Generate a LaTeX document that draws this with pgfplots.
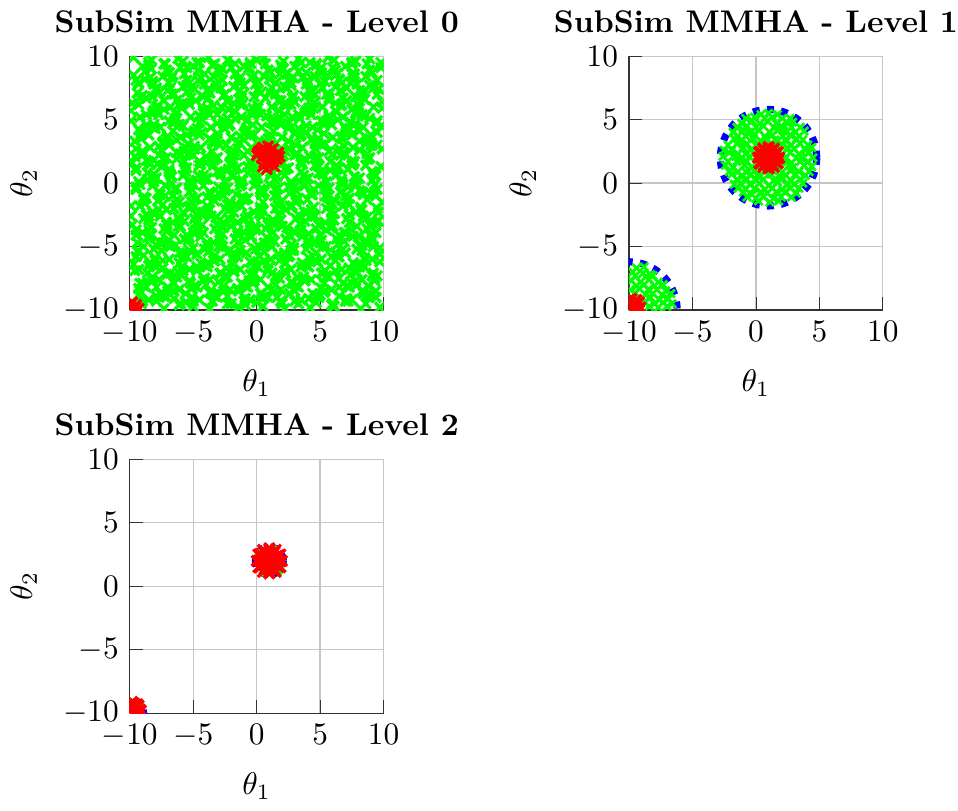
\documentclass[border=0pt]{standalone}
\usepackage{pgfplots}
\pgfplotsset{compat=1.18}
\definecolor{pgreen}{RGB}{0,255,0}
\definecolor{pred}{RGB}{255,0,0}
\definecolor{pblue}{RGB}{0,0,255}
\pgfplotsset{
  sub/.style={width=81.1pt,height=81.1pt,scale only axis,
    xmin=-10,xmax=10,ymin=-10,ymax=10,
    xtick={-10,-5,0,5,10},ytick={-10,-5,0,5,10},
    grid=major, major grid style={gray!45,line width=0.4pt},
    axis x line*=bottom, axis y line*=left, axis line style={-,black!80},
    tick align=inside, tick style={black!80},
    xlabel={$\theta_1$}, ylabel={$\theta_2$},
    xlabel style={yshift=-1.5pt}, ylabel style={yshift=1.5pt},
    title style={font=\bfseries, yshift=-2pt, inner xsep=0pt},
    clip marker paths=true},
  gpts/.style={only marks, mark=x, color=pgreen, mark size=2.2pt, line width=1pt},
  gpts1/.style={only marks, mark=x, color=pgreen, mark size=1.8pt, line width=0.85pt},
  rpts/.style={only marks, mark=x, color=pred, mark size=2.3pt, line width=1pt},
  bcirc/.style={pblue, line width=2.3pt, dash pattern=on 2.2pt off 2.3pt, smooth, no marks}
}
\begin{document}
\begin{tikzpicture}
%%%%%%%%%%%%%%%%%% Level 0
\begin{axis}[sub, at={(0pt,0pt)}, anchor=south west, title={SubSim MMHA - Level 0}]
\addplot[gpts] coordinates {
(-9.4,-9.8)(-9.1,-9.5)(-7.9,-9.3)(-7.3,-9.9)(-6.1,-9.6)(-5.6,-9.4)(-5.0,-9.7)(-3.7,-9.9)(-3.5,-9.3)(-2.3,-9.5)(-1.4,-9.8)(-0.9,-9.6)(0.0,-9.4)(0.5,-9.7)(1.9,-9.3)(2.2,-9.9)(3.3,-9.5)(4.2,-9.8)(4.7,-9.4)(5.9,-9.6)(6.1,-9.7)(7.2,-9.3)(8.2,-9.9)(8.6,-9.5)(9.7,-9.8)
(-9.3,-8.8)(-9.1,-8.6)(-7.9,-8.9)(-7.0,-8.5)(-6.5,-9.1)(-5.6,-8.7)(-5.1,-9.0)(-3.7,-8.6)(-3.4,-8.8)(-2.3,-8.9)(-1.4,-8.5)(-0.9,-9.1)(0.3,-8.7)(0.5,-9.0)(1.6,-9.0)(2.6,-8.7)(3.0,-8.5)(4.1,-9.1)(5.0,-8.8)(5.3,-8.6)(6.5,-8.9)(7.1,-9.1)(8.3,-8.5)(8.8,-8.7)(9.4,-9.0)
(-9.3,-8.3)(-9.0,-7.9)(-7.9,-8.2)(-7.0,-8.2)(-6.5,-7.9)(-5.3,-7.7)(-5.1,-8.3)(-4.0,-8.0)(-3.0,-7.8)(-2.6,-8.1)(-1.5,-8.3)(-0.6,-7.7)(-0.3,-7.9)(0.9,-8.2)(1.5,-8.0)(2.7,-7.8)(3.2,-8.1)(3.8,-7.7)(5.1,-8.3)(5.3,-7.9)(6.5,-8.2)(7.4,-7.8)(7.9,-8.0)(8.8,-8.1)(9.3,-7.7)
(-9.6,-6.9)(-8.6,-7.1)(-8.2,-7.4)(-7.1,-7.2)(-6.2,-7.0)(-5.9,-7.3)(-4.7,-6.9)(-4.1,-7.5)(-2.9,-7.1)(-2.4,-7.4)(-1.8,-7.0)(-0.5,-7.2)(-0.3,-7.3)(0.9,-6.9)(1.8,-7.5)(2.3,-7.1)(3.2,-7.4)(3.7,-7.4)(5.1,-7.1)(5.4,-6.9)(6.5,-7.5)(7.4,-7.2)(7.9,-7.0)(9.1,-7.3)(9.3,-7.5)
(-9.7,-6.4)(-8.5,-6.5)(-8.0,-6.1)(-7.4,-6.7)(-6.1,-6.3)(-5.9,-6.6)(-4.7,-6.6)(-3.8,-6.3)(-3.3,-6.1)(-2.4,-6.7)(-1.9,-6.4)(-0.5,-6.2)(-0.2,-6.5)(0.9,-6.7)(1.8,-6.1)(2.3,-6.3)(3.5,-6.6)(3.7,-6.4)(4.8,-6.2)(5.8,-6.5)(6.2,-6.1)(7.3,-6.7)(8.2,-6.3)(8.5,-6.6)(9.7,-6.2)
(-9.4,-5.4)(-8.9,-5.7)(-8.0,-5.9)(-7.5,-5.3)(-6.1,-5.5)(-5.8,-5.8)(-4.7,-5.6)(-3.8,-5.4)(-3.3,-5.7)(-2.1,-5.3)(-1.9,-5.9)(-0.8,-5.5)(0.2,-5.8)(0.6,-5.4)(1.7,-5.6)(2.6,-5.7)(2.9,-5.3)(4.1,-5.9)(4.7,-5.5)(5.9,-5.8)(6.4,-5.8)(7.0,-5.5)(8.3,-5.3)(8.5,-5.9)(9.7,-5.6)
(-9.4,-4.7)(-8.9,-5.0)(-7.7,-4.6)(-7.5,-4.8)(-6.4,-4.9)(-5.4,-4.5)(-5.0,-5.1)(-3.9,-4.7)(-3.0,-5.0)(-2.7,-5.0)(-1.5,-4.7)(-0.9,-4.5)(0.3,-5.1)(0.8,-4.8)(1.4,-4.6)(2.7,-4.9)(2.9,-5.1)(4.1,-4.5)(5.0,-4.7)(5.5,-5.0)(6.4,-4.8)(6.9,-4.6)(8.3,-4.9)(8.6,-4.5)(9.7,-5.1)
(-9.5,-3.7)(-8.6,-4.3)(-8.3,-4.0)(-7.1,-3.8)(-6.5,-4.1)(-5.3,-4.3)(-4.8,-3.7)(-4.2,-3.9)(-2.9,-4.2)(-2.7,-4.0)(-1.5,-3.8)(-0.6,-4.1)(-0.1,-3.7)(0.8,-4.3)(1.3,-3.9)(2.7,-4.2)(3.0,-3.8)(4.1,-4.0)(5.0,-4.1)(5.5,-3.7)(6.7,-4.3)(6.9,-3.9)(8.0,-4.2)(9.0,-4.2)(9.4,-3.9)
(-9.8,-3.3)(-8.5,-2.9)(-8.3,-3.5)(-7.1,-3.1)(-6.2,-3.4)(-5.7,-3.0)(-4.8,-3.2)(-4.3,-3.3)(-2.9,-2.9)(-2.6,-3.5)(-1.5,-3.1)(-0.6,-3.4)(-0.1,-3.4)(1.1,-3.1)(1.3,-2.9)(2.4,-3.5)(3.4,-3.2)(3.8,-3.0)(4.9,-3.3)(5.8,-3.5)(6.1,-2.9)(7.3,-3.1)(7.9,-3.4)(9.1,-3.2)(9.6,-3.0)
(-9.9,-2.6)(-8.5,-2.6)(-8.2,-2.3)(-7.1,-2.1)(-6.2,-2.7)(-5.7,-2.4)(-4.5,-2.2)(-4.3,-2.5)(-3.2,-2.7)(-2.2,-2.1)(-1.8,-2.3)(-0.7,-2.6)(0.2,-2.4)(0.5,-2.2)(1.7,-2.5)(2.3,-2.1)(3.5,-2.7)(4.0,-2.3)(4.6,-2.6)(5.9,-2.2)(6.1,-2.4)(7.3,-2.5)(8.2,-2.1)(8.7,-2.7)(9.6,-2.3)
(-9.9,-1.8)(-8.8,-1.6)(-7.8,-1.4)(-7.4,-1.7)(-6.3,-1.3)(-5.4,-1.9)(-5.1,-1.5)(-3.9,-1.8)(-3.3,-1.4)(-2.1,-1.6)(-1.6,-1.7)(-1.0,-1.3)(0.3,-1.9)(0.5,-1.5)(1.7,-1.8)(2.6,-1.8)(3.1,-1.5)(4.0,-1.3)(4.5,-1.9)(5.9,-1.6)(6.2,-1.4)(7.3,-1.7)(8.2,-1.9)(8.7,-1.3)(9.9,-1.5)
(-9.5,-0.5)(-8.9,-1.1)(-7.7,-0.7)(-7.2,-1.0)(-6.6,-1.0)(-5.3,-0.7)(-5.1,-0.5)(-3.9,-1.1)(-3.0,-0.8)(-2.5,-0.6)(-1.6,-0.9)(-1.1,-1.1)(0.3,-0.5)(0.6,-0.7)(1.7,-1.0)(2.6,-0.8)(3.1,-0.6)(4.3,-0.9)(4.5,-0.5)(5.6,-1.1)(6.6,-0.7)(7.0,-1.0)(8.1,-0.6)(9.0,-0.8)(9.3,-0.9)
(-9.5,-0.3)(-8.6,0.3)(-8.1,0.1)(-7.2,-0.2)(-6.7,0.0)(-5.3,0.2)(-5.0,-0.1)(-3.9,0.3)(-3.0,-0.3)(-2.5,0.1)(-1.3,-0.2)(-1.1,0.2)(0.0,0.0)(1.0,-0.1)(1.4,0.3)(2.5,-0.3)(3.4,0.1)(3.7,-0.2)(4.9,-0.2)(5.5,0.1)(6.7,0.3)(7.2,-0.3)(7.8,0.0)(9.1,0.2)(9.3,-0.1)
(-9.5,1.0)(-8.6,0.8)(-8.1,0.7)(-6.9,1.1)(-6.7,0.5)(-5.6,0.9)(-4.6,0.6)(-4.2,0.6)(-3.1,0.9)(-2.2,1.1)(-1.9,0.5)(-0.7,0.8)(-0.1,1.0)(1.1,0.7)(1.6,0.5)(2.2,1.1)(3.5,0.9)(3.7,0.6)(4.9,0.8)(5.8,1.0)(6.3,0.7)(7.2,1.1)(7.7,0.5)(9.1,0.9)(9.4,0.6)
(-9.8,1.6)(-8.7,1.8)(-7.8,1.5)(-7.5,1.3)(-6.3,1.9)(-5.7,1.7)(-4.5,1.4)(-4.0,1.6)(-3.4,1.8)(-2.1,1.5)(-1.9,1.9)(-0.7,1.3)(0.2,1.7)(0.7,1.4)(1.6,1.8)(2.1,1.6)(3.5,1.5)(3.8,1.9)(4.9,1.3)(5.8,1.7)(6.3,1.4)(7.5,1.4)(7.7,1.7)(8.8,1.9)(9.8,1.3)
(-9.6,2.1)(-9.0,2.5)(-7.7,2.2)(-7.5,2.6)(-6.3,2.4)(-5.4,2.3)(-4.9,2.7)(-4.0,2.1)(-3.5,2.5)(-2.1,2.2)(-1.8,2.2)(-0.7,2.5)(0.2,2.7)(0.7,2.1)(1.9,2.4)(2.1,2.6)(3.2,2.3)(4.2,2.1)(4.6,2.7)(5.7,2.5)(6.6,2.2)(6.9,2.4)(8.1,2.6)(8.7,2.3)(9.9,2.7)
(-9.6,3.3)(-9.1,3.5)(-7.7,2.9)(-7.4,3.2)(-6.3,3.4)(-5.4,3.1)(-4.9,2.9)(-3.7,3.5)(-3.5,3.3)(-2.4,3.0)(-1.4,3.2)(-1.0,3.4)(0.1,3.1)(1.0,3.5)(1.3,2.9)(2.5,3.3)(3.1,3.0)(4.3,3.4)(4.8,3.2)(5.4,3.1)(6.7,3.5)(6.9,2.9)(8.1,3.3)(9.0,3.0)(9.5,3.0)
(-9.3,4.2)(-9.1,3.9)(-8.0,4.3)(-7.0,3.7)(-6.6,4.1)(-5.5,3.8)(-4.6,4.2)(-4.3,4.0)(-3.1,3.9)(-2.5,4.3)(-1.3,3.7)(-0.8,4.1)(-0.2,3.8)(1.1,3.8)(1.3,4.1)(2.5,4.3)(3.4,3.7)(3.9,4.0)(4.8,4.2)(5.3,3.9)(6.7,3.7)(7.0,4.3)(8.1,4.1)(9.0,3.8)(9.5,4.0)
(-9.9,4.9)(-8.7,4.6)(-8.1,4.6)(-6.9,4.9)(-6.4,5.1)(-5.8,4.5)(-4.5,4.8)(-4.3,5.0)(-3.1,4.7)(-2.2,4.5)(-1.7,5.1)(-0.8,4.9)(-0.3,4.6)(1.1,4.8)(1.4,5.0)(2.5,4.7)(3.4,5.1)(3.9,4.5)(5.1,4.9)(5.3,4.6)(6.4,5.0)(7.4,4.8)(7.8,4.7)(8.9,5.1)(9.8,4.5)
(-9.9,5.7)(-8.7,5.4)(-7.8,5.6)(-7.3,5.8)(-6.4,5.5)(-5.9,5.9)(-4.5,5.3)(-4.2,5.7)(-3.1,5.4)(-2.2,5.8)(-1.7,5.6)(-0.5,5.5)(-0.3,5.9)(0.8,5.3)(1.8,5.7)(2.2,5.4)(3.3,5.4)(4.2,5.7)(4.5,5.9)(5.7,5.3)(6.3,5.6)(7.5,5.8)(8.0,5.5)(8.6,5.3)(9.9,5.9)
(-9.8,6.3)(-8.7,6.7)(-7.8,6.1)(-7.3,6.5)(-6.1,6.2)(-5.9,6.2)(-4.8,6.5)(-3.8,6.7)(-3.4,6.1)(-2.3,6.4)(-1.4,6.6)(-1.1,6.3)(0.1,6.1)(0.7,6.7)(1.9,6.5)(2.4,6.2)(3.0,6.4)(4.3,6.6)(4.5,6.3)(5.7,6.7)(6.6,6.1)(7.1,6.5)(8.0,6.2)(8.5,6.6)(9.9,6.4)
(-9.4,7.1)(-9.0,6.9)(-7.9,7.5)(-7.0,7.3)(-6.7,7.0)(-5.5,7.2)(-4.9,7.4)(-3.7,7.1)(-3.2,7.5)(-2.6,6.9)(-1.3,7.3)(-1.1,7.0)(0.1,7.4)(1.0,7.2)(1.5,7.1)(2.4,7.5)(2.9,6.9)(4.3,7.3)(4.6,7.0)(5.7,7.0)(6.6,7.3)(7.1,7.5)(8.3,6.9)(8.5,7.2)(9.6,7.4)
(-9.3,7.8)(-8.8,8.2)(-8.2,8.0)(-6.9,7.9)(-6.7,8.3)(-5.5,7.7)(-4.6,8.1)(-4.1,7.8)(-3.2,7.8)(-2.7,8.1)(-1.3,8.3)(-1.0,7.7)(0.1,8.0)(1.0,8.2)(1.5,7.9)(2.7,7.7)(2.9,8.3)(4.0,8.1)(5.0,7.8)(5.4,8.0)(6.5,8.2)(7.4,7.9)(7.7,8.3)(8.9,7.7)(9.5,8.1)
(-9.7,8.5)(-8.8,8.8)(-8.3,9.0)(-6.9,8.7)(-6.6,8.5)(-5.5,9.1)(-4.6,8.9)(-4.1,8.6)(-2.9,8.8)(-2.7,9.0)(-1.6,8.7)(-0.6,9.1)(-0.2,8.5)(0.9,8.9)(1.8,8.6)(2.1,9.0)(3.3,8.8)(3.9,8.7)(5.1,9.1)(5.6,8.5)(6.2,8.9)(7.5,8.6)(7.7,8.6)(8.9,8.9)(9.8,9.1)
(-9.7,9.9)(-8.5,9.3)(-8.3,9.7)(-7.2,9.4)(-6.2,9.8)(-5.8,9.6)(-4.7,9.5)(-3.8,9.9)(-3.5,9.3)(-2.3,9.7)(-1.7,9.4)(-0.5,9.4)(0.0,9.7)(0.6,9.9)(1.9,9.3)(2.1,9.6)(3.3,9.8)(4.2,9.5)(4.7,9.3)(5.6,9.9)(6.1,9.7)(7.5,9.4)(7.8,9.6)(8.9,9.8)(9.8,9.5)
(-9.0,-9.3)(-8.5,-9.2)(-7.3,-8.9)(-7.1,-9.0)(-6.0,-9.5)(-5.0,-9.3)(-4.5,-9.2)(-3.3,-8.9)(-3.1,-9.0)(-2.0,-9.5)(-1.0,-9.3)(-0.5,-9.2)(0.7,-8.9)(0.9,-9.0)(2.0,-9.5)(3.0,-9.3)(3.5,-9.2)(4.7,-8.9)(4.9,-9.0)(6.0,-9.5)(7.0,-9.3)(7.5,-9.2)(8.7,-8.9)(8.9,-9.0)
(-8.9,-8.1)(-8.7,-8.2)(-7.6,-8.7)(-6.6,-8.5)(-6.1,-8.4)(-4.9,-8.1)(-4.7,-8.2)(-3.6,-8.7)(-2.6,-8.5)(-2.1,-8.4)(-0.9,-8.1)(-0.7,-8.2)(0.4,-8.7)(1.4,-8.5)(1.9,-8.4)(3.1,-8.1)(3.3,-8.2)(4.4,-8.7)(5.4,-8.5)(5.9,-8.4)(7.1,-8.1)(7.3,-8.2)(8.4,-8.7)(9.4,-8.5)
(-9.2,-7.9)(-8.2,-7.7)(-7.7,-7.6)(-6.5,-7.3)(-6.3,-7.4)(-5.2,-7.9)(-4.2,-7.7)(-3.7,-7.6)(-2.5,-7.3)(-2.3,-7.4)(-1.2,-7.9)(-0.2,-7.7)(0.3,-7.6)(1.5,-7.3)(1.7,-7.4)(2.8,-7.9)(3.8,-7.7)(4.3,-7.6)(5.5,-7.3)(5.7,-7.4)(6.8,-7.9)(7.8,-7.7)(8.3,-7.6)(9.5,-7.3)
(-9.3,-6.8)(-8.1,-6.5)(-7.9,-6.6)(-6.8,-7.1)(-5.8,-6.9)(-5.3,-6.8)(-4.1,-6.5)(-3.9,-6.6)(-2.8,-7.1)(-1.8,-6.9)(-1.3,-6.8)(-0.1,-6.5)(0.1,-6.6)(1.2,-7.1)(2.2,-6.9)(2.7,-6.8)(3.9,-6.5)(4.1,-6.6)(5.2,-7.1)(6.2,-6.9)(6.7,-6.8)(7.9,-6.5)(8.1,-6.6)(9.2,-7.1)
(-9.5,-5.8)(-8.4,-6.3)(-7.4,-6.1)(-6.9,-6.0)(-5.7,-5.7)(-5.5,-5.8)(-4.4,-6.3)(-3.4,-6.1)(-2.9,-6.0)(-1.7,-5.7)(-1.5,-5.8)(-0.4,-6.3)(0.6,-6.1)(1.1,-6.0)(2.3,-5.7)(2.5,-5.8)(3.6,-6.3)(4.6,-6.1)(5.1,-6.0)(6.3,-5.7)(6.5,-5.8)(7.6,-6.3)(8.6,-6.1)(9.1,-6.0)
(-9.3,-5.3)(-8.1,-5.2)(-7.9,-4.9)(-6.8,-5.0)(-5.8,-5.5)(-5.3,-5.3)(-4.1,-5.2)(-3.9,-4.9)(-2.8,-5.0)(-1.8,-5.5)(-1.3,-5.3)(-0.1,-5.2)(0.1,-4.9)(1.2,-5.0)(2.2,-5.5)(2.7,-5.3)(3.9,-5.2)(4.1,-4.9)(5.2,-5.0)(6.2,-5.5)(6.7,-5.3)(7.9,-5.2)(8.1,-4.9)(9.2,-5.0)
(-9.5,-4.1)(-8.4,-4.2)(-7.4,-4.7)(-6.9,-4.5)(-5.7,-4.4)(-5.5,-4.1)(-4.4,-4.2)(-3.4,-4.7)(-2.9,-4.5)(-1.7,-4.4)(-1.5,-4.1)(-0.4,-4.2)(0.6,-4.7)(1.1,-4.5)(2.3,-4.4)(2.5,-4.1)(3.6,-4.2)(4.6,-4.7)(5.1,-4.5)(6.3,-4.4)(6.5,-4.1)(7.6,-4.2)(8.6,-4.7)(9.1,-4.5)
(-9.0,-3.9)(-8.5,-3.7)(-7.3,-3.6)(-7.1,-3.3)(-6.0,-3.4)(-5.0,-3.9)(-4.5,-3.7)(-3.3,-3.6)(-3.1,-3.3)(-2.0,-3.4)(-1.0,-3.9)(-0.5,-3.7)(0.7,-3.6)(0.9,-3.3)(2.0,-3.4)(3.0,-3.9)(3.5,-3.7)(4.7,-3.6)(4.9,-3.3)(6.0,-3.4)(7.0,-3.9)(7.5,-3.7)(8.7,-3.6)(8.9,-3.3)
(-8.9,-2.8)(-8.7,-2.5)(-7.6,-2.6)(-6.6,-3.1)(-6.1,-2.9)(-4.9,-2.8)(-4.7,-2.5)(-3.6,-2.6)(-2.6,-3.1)(-2.1,-2.9)(-0.9,-2.8)(-0.7,-2.5)(0.4,-2.6)(1.4,-3.1)(1.9,-2.9)(3.1,-2.8)(3.3,-2.5)(4.4,-2.6)(5.4,-3.1)(5.9,-2.9)(7.1,-2.8)(7.3,-2.5)(8.4,-2.6)(9.4,-3.1)
(-9.2,-1.8)(-8.2,-2.3)(-7.7,-2.1)(-6.5,-2.0)(-6.3,-1.7)(-5.2,-1.8)(-4.2,-2.3)(-3.7,-2.1)(-2.5,-2.0)(-2.3,-1.7)(-1.2,-1.8)(-0.2,-2.3)(0.3,-2.1)(1.5,-2.0)(1.7,-1.7)(2.8,-1.8)(3.8,-2.3)(4.3,-2.1)(5.5,-2.0)(5.7,-1.7)(6.8,-1.8)(7.8,-2.3)(8.3,-2.1)(9.5,-2.0)
(-8.9,-1.3)(-8.7,-1.2)(-7.6,-0.9)(-6.6,-1.0)(-6.1,-1.5)(-4.9,-1.3)(-4.7,-1.2)(-3.6,-0.9)(-2.6,-1.0)(-2.1,-1.5)(-0.9,-1.3)(-0.7,-1.2)(0.4,-0.9)(1.4,-1.0)(1.9,-1.5)(3.1,-1.3)(3.3,-1.2)(4.4,-0.9)(5.4,-1.0)(5.9,-1.5)(7.1,-1.3)(7.3,-1.2)(8.4,-0.9)(9.4,-1.0)
(-9.2,-0.1)(-8.2,-0.2)(-7.7,-0.7)(-6.5,-0.5)(-6.3,-0.4)(-5.2,-0.1)(-4.2,-0.2)(-3.7,-0.7)(-2.5,-0.5)(-2.3,-0.4)(-1.2,-0.1)(-0.2,-0.2)(0.3,-0.7)(1.5,-0.5)(1.7,-0.4)(2.8,-0.1)(3.8,-0.2)(4.3,-0.7)(5.5,-0.5)(5.7,-0.4)(6.8,-0.1)(7.8,-0.2)(8.3,-0.7)(9.5,-0.5)
(-9.3,0.1)(-8.1,0.3)(-7.9,0.4)(-6.8,0.7)(-5.8,0.6)(-5.3,0.1)(-4.1,0.3)(-3.9,0.4)(-2.8,0.7)(-1.8,0.6)(-1.3,0.1)(-0.1,0.3)(0.1,0.4)(1.2,0.7)(2.2,0.6)(2.7,0.1)(3.9,0.3)(4.1,0.4)(5.2,0.7)(6.2,0.6)(6.7,0.1)(7.9,0.3)(8.1,0.4)(9.2,0.7)
(-9.5,1.2)(-8.4,1.5)(-7.4,1.4)(-6.9,0.9)(-5.7,1.1)(-5.5,1.2)(-4.4,1.5)(-3.4,1.4)(-2.9,0.9)(-1.7,1.1)(-1.5,1.2)(-0.4,1.5)(0.6,1.4)(1.1,0.9)(2.3,1.1)(2.5,1.2)(3.6,1.5)(4.6,1.4)(5.1,0.9)(6.3,1.1)(6.5,1.2)(7.6,1.5)(8.6,1.4)(9.1,0.9)
(-9.0,2.2)(-8.5,1.7)(-7.3,1.9)(-7.1,2.0)(-6.0,2.3)(-5.0,2.2)(-4.5,1.7)(-3.3,1.9)(-3.1,2.0)(-2.0,2.3)(-1.0,2.2)(-0.5,1.7)(0.7,1.9)(0.9,2.0)(2.0,2.3)(3.0,2.2)(3.5,1.7)(4.7,1.9)(4.9,2.0)(6.0,2.3)(7.0,2.2)(7.5,1.7)(8.7,1.9)(8.9,2.0)
(-9.5,2.7)(-8.4,2.8)(-7.4,3.1)(-6.9,3.0)(-5.7,2.5)(-5.5,2.7)(-4.4,2.8)(-3.4,3.1)(-2.9,3.0)(-1.7,2.5)(-1.5,2.7)(-0.4,2.8)(0.6,3.1)(1.1,3.0)(2.3,2.5)(2.5,2.7)(3.6,2.8)(4.6,3.1)(5.1,3.0)(6.3,2.5)(6.5,2.7)(7.6,2.8)(8.6,3.1)(9.1,3.0)
(-9.0,3.9)(-8.5,3.8)(-7.3,3.3)(-7.1,3.5)(-6.0,3.6)(-5.0,3.9)(-4.5,3.8)(-3.3,3.3)(-3.1,3.5)(-2.0,3.6)(-1.0,3.9)(-0.5,3.8)(0.7,3.3)(0.9,3.5)(2.0,3.6)(3.0,3.9)(3.5,3.8)(4.7,3.3)(4.9,3.5)(6.0,3.6)(7.0,3.9)(7.5,3.8)(8.7,3.3)(8.9,3.5)
(-8.9,4.1)(-8.7,4.3)(-7.6,4.4)(-6.6,4.7)(-6.1,4.6)(-4.9,4.1)(-4.7,4.3)(-3.6,4.4)(-2.6,4.7)(-2.1,4.6)(-0.9,4.1)(-0.7,4.3)(0.4,4.4)(1.4,4.7)(1.9,4.6)(3.1,4.1)(3.3,4.3)(4.4,4.4)(5.4,4.7)(5.9,4.6)(7.1,4.1)(7.3,4.3)(8.4,4.4)(9.4,4.7)
(-9.2,5.2)(-8.2,5.5)(-7.7,5.4)(-6.5,4.9)(-6.3,5.1)(-5.2,5.2)(-4.2,5.5)(-3.7,5.4)(-2.5,4.9)(-2.3,5.1)(-1.2,5.2)(-0.2,5.5)(0.3,5.4)(1.5,4.9)(1.7,5.1)(2.8,5.2)(3.8,5.5)(4.3,5.4)(5.5,4.9)(5.7,5.1)(6.8,5.2)(7.8,5.5)(8.3,5.4)(9.5,4.9)
(-9.3,6.2)(-8.1,5.7)(-7.9,5.9)(-6.8,6.0)(-5.8,6.3)(-5.3,6.2)(-4.1,5.7)(-3.9,5.9)(-2.8,6.0)(-1.8,6.3)(-1.3,6.2)(-0.1,5.7)(0.1,5.9)(1.2,6.0)(2.2,6.3)(2.7,6.2)(3.9,5.7)(4.1,5.9)(5.2,6.0)(6.2,6.3)(6.7,6.2)(7.9,5.7)(8.1,5.9)(9.2,6.0)
(-9.2,6.7)(-8.2,6.8)(-7.7,7.1)(-6.5,7.0)(-6.3,6.5)(-5.2,6.7)(-4.2,6.8)(-3.7,7.1)(-2.5,7.0)(-2.3,6.5)(-1.2,6.7)(-0.2,6.8)(0.3,7.1)(1.5,7.0)(1.7,6.5)(2.8,6.7)(3.8,6.8)(4.3,7.1)(5.5,7.0)(5.7,6.5)(6.8,6.7)(7.8,6.8)(8.3,7.1)(9.5,7.0)
(-9.3,7.9)(-8.1,7.8)(-7.9,7.3)(-6.8,7.5)(-5.8,7.6)(-5.3,7.9)(-4.1,7.8)(-3.9,7.3)(-2.8,7.5)(-1.8,7.6)(-1.3,7.9)(-0.1,7.8)(0.1,7.3)(1.2,7.5)(2.2,7.6)(2.7,7.9)(3.9,7.8)(4.1,7.3)(5.2,7.5)(6.2,7.6)(6.7,7.9)(7.9,7.8)(8.1,7.3)(9.2,7.5)
(-9.5,8.1)(-8.4,8.3)(-7.4,8.4)(-6.9,8.7)(-5.7,8.6)(-5.5,8.1)(-4.4,8.3)(-3.4,8.4)(-2.9,8.7)(-1.7,8.6)(-1.5,8.1)(-0.4,8.3)(0.6,8.4)(1.1,8.7)(2.3,8.6)(2.5,8.1)(3.6,8.3)(4.6,8.4)(5.1,8.7)(6.3,8.6)(6.5,8.1)(7.6,8.3)(8.6,8.4)(9.1,8.7)
(-9.0,9.2)(-8.5,9.5)(-7.3,9.4)(-7.1,8.9)(-6.0,9.1)(-5.0,9.2)(-4.5,9.5)(-3.3,9.4)(-3.1,8.9)(-2.0,9.1)(-1.0,9.2)(-0.5,9.5)(0.7,9.4)(0.9,8.9)(2.0,9.1)(3.0,9.2)(3.5,9.5)(4.7,9.4)(4.9,8.9)(6.0,9.1)(7.0,9.2)(7.5,9.5)(8.7,9.4)(8.9,8.9)
};
\addplot[rpts] coordinates {
(0.2,2.5)(0.5,2.8)(0.9,2.9)(1.3,2.7)(1.7,2.4)(0.0,2.2)(0.4,2.0)(0.8,2.3)(1.2,2.1)(1.6,1.9)(0.6,1.6)(1.0,1.5)(0.8,1.1)(1.4,1.3)(0.3,2.6)(1.1,2.6)(0.7,2.6)(1.5,2.2)(0.5,1.3)(1.8,2.1)(0.9,1.9)(0.1,2.4)(1.3,1.7)
(-9.8,-9.4)(-9.6,-9.8)(-9.3,-9.9)(-9.9,-9.7)(-9.5,-9.6)
};
\end{axis}
%%%%%%%%%%%%%%%%%% Level 1
\begin{axis}[sub, at={(159.5pt,0pt)}, anchor=south west, title={SubSim MMHA - Level 1}]
\addplot[bcirc] coordinates {
(4.80,2.00)(4.67,2.98)(4.29,3.90)(3.69,4.69)(2.90,5.29)(1.98,5.67)(1.00,5.80)(0.02,5.67)(-0.90,5.29)(-1.69,4.69)(-2.29,3.90)(-2.67,2.98)(-2.80,2.00)(-2.67,1.02)(-2.29,0.10)(-1.69,-0.69)(-0.90,-1.29)(0.02,-1.67)(1.00,-1.80)(1.98,-1.67)(2.90,-1.29)(3.69,-0.69)(4.29,0.10)(4.67,1.02)(4.80,2.00)
};
\addplot[bcirc] coordinates {
(-6.33,-10.98)(-6.20,-10.00)(-6.33,-9.02)(-6.71,-8.10)(-7.31,-7.31)(-8.10,-6.71)(-9.02,-6.33)(-10.00,-6.20)(-10.98,-6.33)
};
\addplot[gpts1] coordinates {
(-2.4,1.4)(-2.6,2.1)(-2.5,2.6)
(-1.7,-0.1)(-1.9,0.7)(-1.8,1.2)(-1.6,2.1)(-1.9,2.6)(-1.7,3.5)(-1.8,4.0)
(-1.0,-0.7)(-1.2,0.0)(-1.1,0.5)(-0.9,1.4)(-1.2,1.9)(-1.0,2.8)(-1.2,3.3)(-1.0,4.2)(-1.1,4.7)
(-0.3,-0.9)(-0.5,-0.1)(-0.4,0.7)(-0.3,1.2)(-0.5,2.1)(-0.4,2.6)(-0.2,3.5)(-0.5,4.0)(-0.3,4.9)
(0.2,-1.4)(0.4,-0.7)(0.3,0.0)(0.1,0.6)(0.4,1.4)(0.2,1.9)(0.3,2.8)(0.4,3.3)(0.2,4.2)(0.3,4.7)(0.4,5.4)
(1.1,-1.5)(0.9,-0.8)(1.0,-0.2)(1.2,0.7)(0.9,1.2)(1.1,2.1)(1.0,2.6)(0.8,3.5)(1.1,4.0)(0.9,4.9)(1.0,5.5)
(1.8,-1.4)(1.6,-0.7)(1.7,0.1)(1.9,0.5)(1.6,1.3)(1.8,2.1)(1.7,2.7)(1.5,3.4)(1.8,4.2)(1.6,4.7)(1.7,5.4)
(2.3,-0.7)(2.5,0.0)(2.4,0.6)(2.6,1.4)(2.3,1.9)(2.5,2.8)(2.4,3.3)(2.2,4.1)(2.5,4.7)
(3.2,-0.8)(3.0,-0.1)(3.1,0.7)(2.9,1.2)(3.2,2.0)(3.0,2.7)(3.2,3.5)(3.1,4.0)(2.9,4.8)
(3.7,0.0)(3.9,0.6)(3.8,1.4)(3.6,2.0)(3.9,2.6)(3.7,3.4)(3.8,4.1)
(4.4,1.3)(4.5,2.0)(4.4,2.8)
(-2.1,0.9)(-2.2,1.7)(-2.1,2.4)(-2.2,3.0)
(-1.4,-0.4)(-1.5,0.3)(-1.4,0.9)(-1.5,1.7)(-1.4,2.3)(-1.5,3.1)(-1.4,3.7)(-1.5,4.4)
(-0.7,-1.1)(-0.8,-0.5)(-0.7,0.3)(-0.8,0.9)(-0.7,1.7)(-0.8,2.3)(-0.7,3.1)(-0.8,3.7)(-0.7,4.5)(-0.8,5.1)
(0.0,-1.2)(-0.1,-0.4)(0.0,0.2)(-0.1,1.0)(0.0,1.6)(-0.1,2.4)(0.0,3.0)(-0.1,3.8)(0.0,4.4)(-0.1,5.2)
(0.6,-1.1)(0.7,-0.5)(0.6,0.3)(0.7,0.9)(0.6,1.7)(0.7,2.3)(0.6,3.1)(0.7,3.7)(0.6,4.5)(0.7,5.1)
(1.4,-1.2)(1.3,-0.4)(1.4,0.2)(1.3,1.0)(1.4,1.6)(1.3,2.4)(1.4,3.0)(1.3,3.8)(1.4,4.4)(1.3,5.2)
(2.0,-1.1)(2.1,-0.5)(2.0,0.3)(2.1,0.9)(2.0,1.7)(2.1,2.3)(2.0,3.1)(2.1,3.7)(2.0,4.5)(2.1,5.1)
(2.8,-1.1)(2.7,-0.4)(2.8,0.2)(2.7,1.0)(2.8,1.6)(2.7,2.4)(2.8,3.0)(2.7,3.8)(2.8,4.4)(2.7,5.1)
(3.4,-0.4)(3.5,0.3)(3.4,0.9)(3.5,1.7)(3.4,2.3)(3.5,3.1)(3.4,3.7)(3.5,4.4)
(4.2,0.9)(4.1,1.7)(4.2,2.4)(4.1,3.0)
(-9.8,-9.7)(-9.7,-9.1)(-9.9,-8.4)(-9.8,-7.7)(-9.7,-7.0)
(-9.1,-9.8)(-9.0,-9.1)(-9.2,-8.3)(-9.1,-7.8)(-8.9,-7.1)
(-8.4,-9.7)(-8.3,-9.0)(-8.5,-8.4)(-8.4,-7.6)(-8.3,-7.2)
(-7.7,-9.8)(-7.6,-9.2)(-7.8,-8.4)(-7.7,-7.8)
(-7.0,-9.7)(-6.9,-9.1)(-7.1,-8.5)
(-9.4,-9.5)(-9.5,-8.7)(-9.4,-8.1)(-9.5,-7.3)(-9.4,-6.7)(-8.8,-9.4)(-8.7,-8.8)(-8.8,-8.0)(-8.7,-7.4)(-8.8,-6.6)
(-8.0,-9.5)(-8.1,-8.7)(-8.0,-8.1)(-8.1,-7.3)(-7.3,-9.4)(-7.4,-8.8)(-7.3,-8.0)(-6.6,-9.5)(-6.7,-8.7)
};
\addplot[rpts] coordinates {
(1.02,2.04)(0.65,1.98)(1.38,2.06)(0.27,2.02)(1.76,1.95)(0.81,2.35)(1.20,2.30)(0.47,2.28)(1.53,2.35)(0.84,1.66)(1.17,1.71)(0.45,1.70)(1.56,1.65)(0.98,2.65)(0.63,2.60)(1.37,2.61)(1.04,1.35)(0.66,1.42)(1.34,1.40)(0.34,2.47)(1.68,2.42)(0.32,1.53)(1.66,1.58)(1.01,2.79)(0.99,1.21)(0.62,2.15)(1.35,1.85)(0.95,1.85)(1.10,2.20)
(1.85,2.00)(1.74,2.43)(1.43,2.74)(1.00,2.85)(0.57,2.74)(0.26,2.43)(0.15,2.00)(0.26,1.57)(0.57,1.26)(1.00,1.15)(1.43,1.26)(1.74,1.57)
(-9.9,-9.9)(-9.6,-9.9)(-9.3,-9.85)(-9.9,-9.6)(-9.9,-9.3)(-9.6,-9.6)(-9.4,-9.5)(-9.55,-9.35)(-9.75,-9.75)(-9.1,-9.8)(-9.8,-9.1)(-9.2,-9.4)(-9.4,-9.2)
};
\end{axis}
%%%%%%%%%%%%%%%%%% Level 2
\begin{axis}[sub, at={(0pt,-128.8pt)}, anchor=south west, title={SubSim MMHA - Level 2}]
\addplot[bcirc] coordinates {
(2.10,2.00)(2.06,2.28)(1.95,2.55)(1.78,2.78)(1.55,2.95)(1.28,3.06)(1.00,3.10)(0.72,3.06)(0.45,2.95)(0.22,2.78)(0.05,2.55)(-0.06,2.28)(-0.10,2.00)(-0.06,1.72)(0.05,1.45)(0.22,1.22)(0.45,1.05)(0.72,0.94)(1.00,0.90)(1.28,0.94)(1.55,1.05)(1.78,1.22)(1.95,1.45)(2.06,1.72)(2.10,2.00)
};
\addplot[bcirc] coordinates {
(-8.94,-10.28)(-8.90,-10.00)(-8.94,-9.72)(-9.05,-9.45)(-9.22,-9.22)(-9.45,-9.05)(-9.72,-8.94)(-10.00,-8.90)(-10.28,-8.94)
};
\addplot[gpts] coordinates {
(0.4,2.5)(1.7,2.4)(1.9,1.5)(0.3,1.6)(1.2,2.8)(0.8,1.2)(1.6,1.3)(0.2,2.1)
(-9.3,-9.6)(-9.6,-9.3)
};
\addplot[rpts] coordinates {
(1.03,2.04)(0.61,1.97)(1.43,2.07)(0.18,2.03)(1.85,1.95)(0.78,2.39)(1.23,2.34)(0.41,2.31)(1.59,2.39)(0.82,1.62)(1.19,1.68)(0.38,1.66)(1.63,1.61)(0.97,2.73)(0.58,2.68)(1.42,2.69)(1.04,1.27)(0.62,1.35)(1.38,1.33)(0.26,2.53)(1.77,2.47)(0.23,1.47)(1.74,1.53)(1.01,2.89)(0.99,1.11)(0.62,2.15)(1.35,1.85)(0.95,1.85)(1.10,2.20)(0.40,2.00)(1.60,2.00)(0.70,1.80)(1.30,2.30)
(2.00,2.00)(1.87,2.50)(1.50,2.87)(1.00,3.00)(0.50,2.87)(0.13,2.50)(0.00,2.00)(0.13,1.50)(0.50,1.13)(1.00,1.00)(1.50,1.13)(1.87,1.50)
(-9.9,-9.9)(-9.6,-9.9)(-9.3,-9.85)(-9.9,-9.6)(-9.9,-9.3)(-9.6,-9.6)(-9.4,-9.5)(-9.55,-9.35)(-9.75,-9.75)(-9.2,-9.7)(-9.7,-9.2)(-9.1,-9.8)(-9.8,-9.1)(-9.3,-9.4)(-9.4,-9.3)
};
\end{axis}
\end{tikzpicture}
\end{document}
